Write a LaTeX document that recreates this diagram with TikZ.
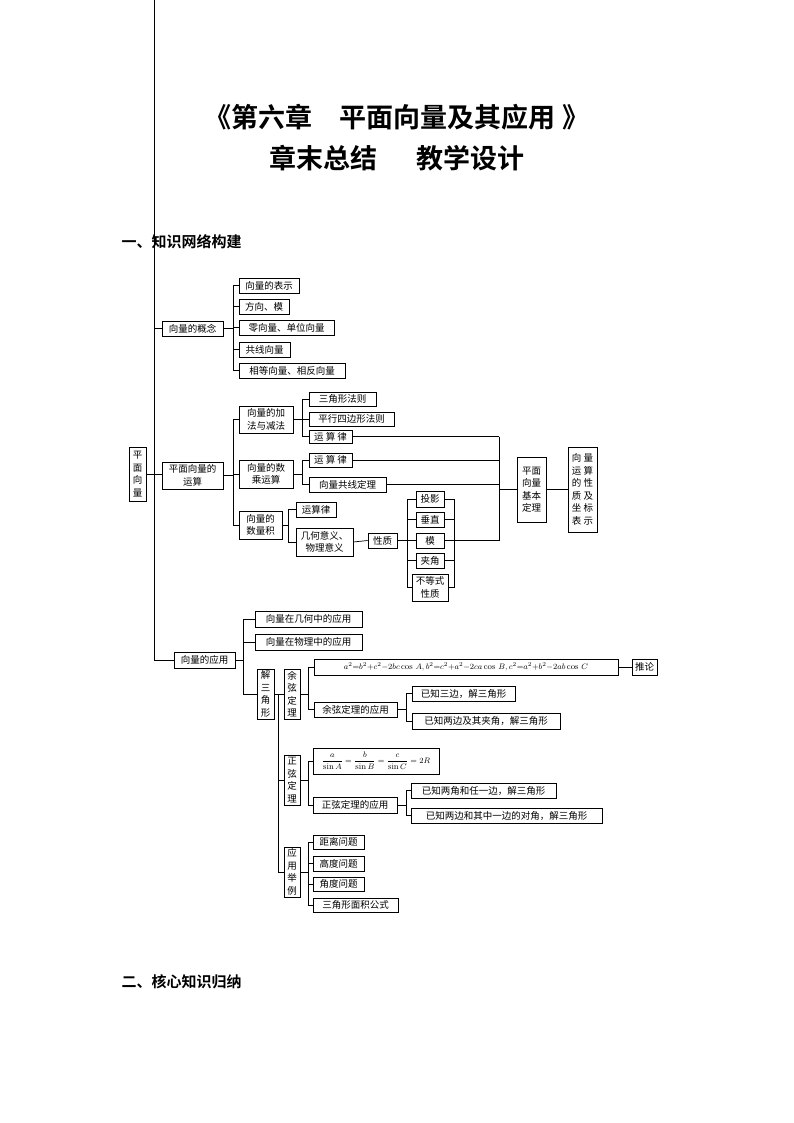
\documentclass[tikz,border=0pt]{standalone}
\usepackage{fontspec}
\usepackage{amsmath}
\newfontfamily\cjk{Noto Sans CJK SC}
\newfontfamily\cjkb{Noto Sans CJK SC Bold}
\tikzset{box/.style={draw,line width=0.7pt,inner sep=0pt,align=center,font=\cjk\fontsize{9.5}{12.5}\selectfont},
ln/.style={line width=0.7pt}}
\newcommand\bx[6]{\node[box,minimum width={(#4-#2)*1pt},minimum height={(#5-#3)*1pt}] (#1) at ({(#2+#4)/2},{(#3+#5)/2}) {#6};}
\newcommand\con[3]{\draw[ln] (#1.east) -- (#1.east -| #2) |- (#3.west);}
\begin{document}
\begin{tikzpicture}[x=1pt,y=-1pt]
\useasboundingbox (0,0) rectangle (794,1123);
\node[font=\cjkb\fontsize{27}{32}\selectfont] (t1) at (397,117) {《第六章\quad 平面向量及其应用 》};
\node[font=\cjkb\fontsize{27}{32}\selectfont] (t2) at (397,158) {章末总结\quad\ \ 教学设计};
\node[font=\cjkb\fontsize{15}{18}\selectfont,anchor=west] (h1) at (118,242) {一、知识网络构建};
\node[font=\cjkb\fontsize{15}{18}\selectfont,anchor=west] (h2) at (118,982) {二、核心知识归纳};
% root
\bx{root}{129}{447}{146}{501}{平\\面\\向\\量}
\coordinate (b0) at (154,0);
\bx{gn}{162}{321}{223}{336}{向量的概念}
\bx{ys}{162}{462}{223}{489}{平面向量的\\运算}
\bx{yy}{174}{652}{235}{668}{向量的应用}
\draw[ln] (root.east) -- (root.east -| b0);
\draw[ln] (gn.west) -| (b0) ;
\draw[ln] (gn.west -| b0) |- (yy.west);
\draw[ln] (root.east -| b0) -- (root.east -| ys.west);
% concept
\coordinate (b1) at (233,0);
\bx{c1}{239}{278}{299}{293}{向量的表示}
\bx{c2}{239}{299}{289}{314}{方向、模}
\bx{c3}{239}{320}{334}{335}{零向量、单位向量}
\bx{c4}{239}{342}{290}{357}{共线向量}
\bx{c5}{239}{363}{345}{378}{相等向量、相反向量}
\foreach \c in {c1,c2,c3,c4,c5} {\con{gn}{b1}{\c}}
% operations
\bx{jj}{239}{406}{293}{433}{向量的加\\法与减法}
\bx{sc}{239}{460}{293}{488}{向量的数\\乘运算}
\bx{sl}{239}{511}{282}{539}{向量的\\数量积}
\foreach \c in {jj,sc,sl} {\con{ys}{b1}{\c}}
\coordinate (b2) at (302,0);
\bx{j1}{309}{392}{376}{406}{三角形法则}
\bx{j2}{309}{412}{394}{426}{平行四边形法则}
\bx{j3}{309}{430}{352}{443}{运 算 律}
\foreach \c in {j1,j2,j3} {\con{jj}{b2}{\c}}
\bx{s1}{309}{453}{352}{467}{运 算 律}
\bx{s2}{309}{477}{386}{492}{向量共线定理}
\foreach \c in {s1,s2} {\con{sc}{b2}{\c}}
\coordinate (b3) at (288,0);
\bx{l1}{296}{502}{336}{517}{运算律}
\bx{l2}{296}{528}{353}{556}{几何意义、\\物理意义}
\foreach \c in {l1,l2} {\con{sl}{b3}{\c}}
\bx{xz}{368}{533}{397}{548}{性质}
\draw[ln] (l2.east) -- (xz.west);
\coordinate (b4) at (407,0);
\coordinate (b5) at (454,0);
\bx{p1}{416}{491}{444}{507}{投影}
\bx{p2}{416}{512}{444}{527}{垂直}
\bx{p3}{416}{533}{444}{548}{模}
\bx{p4}{416}{553}{444}{568}{夹角}
\bx{p5}{412}{574}{448}{601}{不等式\\性质}
\foreach \c in {p1,p2,p3,p4,p5} {\con{xz}{b4}{\c}
  \draw[ln] (\c.east) -- (\c.east -| b5);}
\draw[ln] (p1.east -| b5) -- (p5.east -| b5);
\coordinate (b6) at (499,0);
\bx{jb}{517}{457}{546}{522}{平面\\向量\\基本\\定理}
\bx{xl}{568}{447}{597}{532}{向 量\\运 算\\的 性\\质 及\\坐 标\\表 示}
\foreach \c in {j3,s1,s2,p3} {\draw[ln] (\c.east) -- (\c.east -| b6);}
\draw[ln] (j3.east -| b6) -- (p3.east -| b6);
\draw[ln] (jb.west -| b6) -- (jb.west);
\draw[ln] (jb.east) -- (xl.west);
% applications
\coordinate (b7) at (243,0);
\bx{a1}{255}{611}{362}{627}{向量在几何中的应用}
\bx{a2}{255}{634}{362}{650}{向量在物理中的应用}
\bx{a3}{257}{669}{274}{719}{解\\三\\角\\形}
\foreach \c in {a1,a2,a3} {\con{yy}{b7}{\c}}
\coordinate (b8) at (278,0);
\bx{yx}{284}{669}{300}{719}{余\\弦\\定\\理}
\bx{zx}{284}{755}{300}{805}{正\\弦\\定\\理}
\bx{yl}{284}{847}{300}{897}{应\\用\\举\\例}
\draw[ln] (a3.east) -- (yx.west);
\draw[ln] (a3.east -| b8) |- (zx.west);
\draw[ln] (a3.east -| b8) |- (yl.west);
\coordinate (b9) at (308,0);
\bx{f1}{314}{659}{618}{675}{\fontsize{8.5}{10}\selectfont$a^2{=}b^2{+}c^2{-}2bc\cos\,A,b^2{=}c^2{+}a^2{-}2ca\cos\,B,c^2{=}a^2{+}b^2{-}2ab\cos\,C$}
\bx{tl}{632}{659}{657}{675}{推论}
\draw[ln] (f1.east) -- (tl.west);
\bx{ya}{314}{702}{397}{717}{余弦定理的应用}
\foreach \c in {f1,ya} {\con{yx}{b9}{\c}}
\coordinate (b10) at (406,0);
\bx{y1}{412}{686}{515}{701}{已知三边，解三角形}
\bx{y2}{412}{713}{560}{729}{已知两边及其夹角，解三角形}
\foreach \c in {y1,y2} {\con{ya}{b10}{\c}}
\bx{f2}{313}{748}{439}{774}{\fontsize{8.5}{10}\selectfont$\dfrac{a}{\sin A}=\dfrac{b}{\sin B}=\dfrac{c}{\sin C}=2R$}
\bx{za}{313}{797}{397}{813}{正弦定理的应用}
\foreach \c in {f2,za} {\con{zx}{b9}{\c}}
\bx{z1}{411}{783}{556}{798}{已知两角和任一边，解三角形}
\bx{z2}{411}{808}{602}{823}{已知两边和其中一边的对角，解三角形}
\foreach \c in {z1,z2} {\con{za}{b10}{\c}}
\bx{e1}{313}{835}{364}{849}{距离问题}
\bx{e2}{313}{856}{364}{871}{高度问题}
\bx{e3}{313}{877}{364}{891}{角度问题}
\bx{e4}{313}{898}{398}{912}{三角形面积公式}
\foreach \c in {e1,e2,e3,e4} {\con{yl}{b9}{\c}}
\end{tikzpicture}
\end{document}
